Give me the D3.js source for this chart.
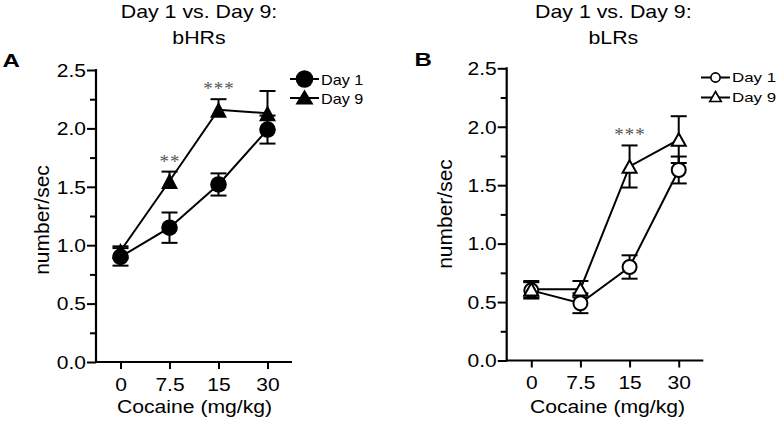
<!DOCTYPE html>
<html>
<head>
<meta charset="utf-8">
<script src="https://cdn.jsdelivr.net/npm/d3@7"></script>
<style>
  html, body { margin: 0; padding: 0; background: #fff; }
  svg { display: block; }
  text { font-family: "Liberation Sans", Arial, Helvetica, sans-serif; fill: #000; }
</style>
</head>
<body>
<svg id="chart" width="779" height="423"></svg>
<script>
// ---------------- data ----------------
const doses = ["0", "7.5", "15", "30"];
const yTickValues = [0, 0.5, 1.0, 1.5, 2.0, 2.5];
const yMinorTickValues = [0.25, 0.75, 1.25, 1.75, 2.25];
const seriesNames = ["Day 1", "Day 9"];

const hrTitle = ["Day 1 vs. Day 9:", "bHRs"];
const hrDay1 = [0.90, 1.15, 1.52, 1.99];
const hrDay1Err = [0.075, 0.13, 0.095, 0.12];
const hrDay9 = [0.95, 1.55, 2.16, 2.13];
const hrDay9Err = [0.04, 0.08, 0.09, 0.19];
const hrSig = ["", "**", "***", ""];

const lrTitle = ["Day 1 vs. Day 9:", "bLRs"];
const lrDay1 = [0.60, 0.49, 0.80, 1.63];
const lrDay1Err = [0.07, 0.085, 0.10, 0.115];
const lrDay9 = [0.61, 0.61, 1.66, 1.89];
const lrDay9Err = [0.07, 0.07, 0.18, 0.20];
const lrSig = ["", "", "***", ""];

const yLabel = "number/sec";
const xLabel = "Cocaine (mg/kg)";

// ---------------- layout / style ----------------
const panels = [
  {
    letter: "A", title: hrTitle, sig: hrSig,
    series: [
      { name: seriesNames[0], values: hrDay1, err: hrDay1Err, shape: "circle", filled: true, errUpOnly: false },
      { name: seriesNames[1], values: hrDay9, err: hrDay9Err, shape: "triangle", filled: true, errUpOnly: true }
    ],
    x0: 96, x1: 292, y0: 362, y1: 70,
    titleX: 199, letterX: 2.5, letterY: 66.5,
    yLabelX: 42, yLabelY: 220, xLabelX: 194.5,
    legend: { lineX0: 290, lineX1: 319, markX: 304.5, rows: [79, 98], textX: 321, textDy: 5.5, fs: 15, sx: 1.08, r: 8.8, tw: 18, th: 15 },
    markR: 8.3, triW: 17, triH: 16
  },
  {
    letter: "B", title: lrTitle, sig: lrSig,
    series: [
      { name: seriesNames[0], values: lrDay1, err: lrDay1Err, shape: "circle", filled: false, errUpOnly: false },
      { name: seriesNames[1], values: lrDay9, err: lrDay9Err, shape: "triangle", filled: false, errUpOnly: false }
    ],
    x0: 506.7, x1: 703.3, y0: 360.5, y1: 68.3,
    titleX: 613.3, letterX: 414.5, letterY: 65.7,
    yLabelX: 445, yLabelY: 214, xLabelX: 607.5,
    legend: { lineX0: 701, lineX1: 730, markX: 715.5, rows: [77.5, 97.5], textX: 732, textDy: 4.3, fs: 13, sx: 1.3, r: 4.6, tw: 11.5, th: 10 },
    markR: 7, triW: 14, triH: 12.5
  }
];

const SX = 1.2;           // horizontal text stretch
const FS = 17.5;          // base font size

const svg = d3.select("#chart");

function triPath(w, h) {
  return `M0,${-h / 2}L${w / 2},${h / 2}L${-w / 2},${h / 2}Z`;
}

function stretchedText(g, str, x, y, opts) {
  const t = g.append("text")
    .attr("transform", `translate(${x},${y}) scale(${opts.sx || SX},1)`)
    .attr("text-anchor", opts.anchor || "middle")
    .style("font-size", (opts.fs || FS) + "px")
    .text(str);
  if (opts.weight) t.style("font-weight", opts.weight);
  if (opts.fill) t.style("fill", opts.fill);
  if (opts.family) t.style("font-family", opts.family);
  return t;
}

panels.forEach(p => {
  const g = svg.append("g");
  const x = d3.scalePoint().domain(doses).range([p.x0, p.x1]).padding(0.5);
  const y = d3.scaleLinear().domain([0, 2.5]).range([p.y0, p.y1]);

  // titles
  stretchedText(g, p.title[0], p.titleX, 17.5, { sx: 1.22 });
  stretchedText(g, p.title[1], p.titleX, 43.5, { sx: 1.22 });
  // panel letter
  stretchedText(g, p.letter, p.letterX, p.letterY, { anchor: "start", weight: "bold", fs: 18.5, sx: 1.3 });

  // y axis major
  const yAxis = g.append("g")
    .attr("transform", `translate(${p.x0},0)`)
    .call(d3.axisLeft(y).tickValues(yTickValues).tickSize(9).tickSizeOuter(0).tickFormat(d3.format(".1f")));
  yAxis.select(".domain").remove();
  yAxis.selectAll(".tick line").attr("stroke", "#000").attr("stroke-width", 2);
  yAxis.selectAll(".tick text")
    .attr("x", -10 / SX)
    .attr("dy", "0.36em")
    .attr("transform", `scale(${SX},1)`)
    .style("font-size", FS + "px")
    .style("font-family", '"Liberation Sans", Arial, sans-serif');

  // y axis minor
  const yMinor = g.append("g")
    .attr("transform", `translate(${p.x0},0)`)
    .call(d3.axisLeft(y).tickValues(yMinorTickValues).tickSize(6).tickSizeOuter(0).tickFormat(""));
  yMinor.select(".domain").remove();
  yMinor.selectAll(".tick line").attr("stroke", "#000").attr("stroke-width", 2);

  // x axis
  const xAxis = g.append("g")
    .attr("transform", `translate(0,${p.y0})`)
    .call(d3.axisBottom(x).tickSize(7).tickSizeOuter(0));
  xAxis.select(".domain").remove();
  xAxis.selectAll(".tick line").attr("stroke", "#000").attr("stroke-width", 2);
  xAxis.selectAll(".tick text")
    .attr("y", 16.5)
    .attr("transform", `scale(${SX},1)`)
    .style("font-size", FS + "px")
    .style("font-family", '"Liberation Sans", Arial, sans-serif');

  // axis lines
  g.append("line").attr("x1", p.x0).attr("x2", p.x0).attr("y1", p.y1 - 1).attr("y2", p.y0 + 1)
    .attr("stroke", "#000").attr("stroke-width", 2.2);
  g.append("line").attr("x1", p.x0).attr("x2", p.x1).attr("y1", p.y0).attr("y2", p.y0)
    .attr("stroke", "#000").attr("stroke-width", 2.2);

  // axis labels
  g.append("text")
    .attr("transform", `translate(${p.yLabelX},${p.yLabelY}) rotate(-90)`)
    .attr("text-anchor", "middle")
    .attr("dy", "0.35em")
    .style("font-size", "21px")
    .text(yLabel);
  stretchedText(g, xLabel, p.xLabelX, 413, { sx: 1.21 });

  // lines
  const line = d3.line().x((d, i) => x(doses[i])).y(d => y(d));
  p.series.forEach(s => {
    g.append("path").attr("d", line(s.values))
      .attr("fill", "none").attr("stroke", "#000").attr("stroke-width", 2);
  });

  // error bars
  const cap = 8;
  p.series.forEach(s => {
    s.values.forEach((v, i) => {
      const cx = x(doses[i]);
      const top = y(v + s.err[i]);
      const bot = s.errUpOnly ? y(v) : y(v - s.err[i]);
      g.append("line").attr("x1", cx).attr("x2", cx).attr("y1", top).attr("y2", bot)
        .attr("stroke", "#000").attr("stroke-width", 2);
      g.append("line").attr("x1", cx - cap).attr("x2", cx + cap).attr("y1", top).attr("y2", top)
        .attr("stroke", "#000").attr("stroke-width", 2);
      if (!s.errUpOnly) {
        g.append("line").attr("x1", cx - cap).attr("x2", cx + cap).attr("y1", bot).attr("y2", bot)
          .attr("stroke", "#000").attr("stroke-width", 2);
      }
    });
  });

  // markers
  p.series.forEach(s => {
    s.values.forEach((v, i) => {
      const cx = x(doses[i]), cy = y(v);
      if (s.shape === "circle") {
        g.append("circle").attr("cx", cx).attr("cy", cy).attr("r", p.markR)
          .attr("fill", s.filled ? "#000" : "#fff").attr("stroke", "#000").attr("stroke-width", s.filled ? 0 : 2);
      } else {
        g.append("path").attr("d", triPath(p.triW, p.triH))
          .attr("transform", `translate(${cx},${cy})`)
          .attr("fill", s.filled ? "#000" : "#fff").attr("stroke", "#000").attr("stroke-width", s.filled ? 0 : 2)
          .attr("stroke-linejoin", "miter");
      }
    });
  });

  // significance asterisks
  p.sig.forEach((lab, i) => {
    if (!lab) return;
    const maxTop = d3.max(p.series, s => s.values[i] + s.err[i]);
    g.append("text")
      .attr("x", x(doses[i]) + 0.5)
      .attr("y", y(maxTop) - 4)
      .attr("text-anchor", "middle")
      .style("font-family", '"Liberation Serif", "Times New Roman", serif')
      .style("font-size", "19px")
      .style("letter-spacing", "1px")
      .style("fill", "#555")
      .text(lab);
  });

  // legend
  const L = p.legend;
  p.series.forEach((s, k) => {
    const ry = L.rows[k];
    g.append("line").attr("x1", L.lineX0).attr("x2", L.lineX1).attr("y1", ry).attr("y2", ry)
      .attr("stroke", "#000").attr("stroke-width", 2);
    if (s.shape === "circle") {
      g.append("circle").attr("cx", L.markX).attr("cy", ry).attr("r", L.r)
        .attr("fill", s.filled ? "#000" : "#fff").attr("stroke", "#000").attr("stroke-width", s.filled ? 0 : 1.6);
    } else {
      g.append("path").attr("d", triPath(L.tw, L.th))
        .attr("transform", `translate(${L.markX},${ry - 1})`)
        .attr("fill", s.filled ? "#000" : "#fff").attr("stroke", "#000").attr("stroke-width", s.filled ? 0 : 1.6);
    }
    stretchedText(g, s.name, L.textX, ry + L.textDy, { anchor: "start", fs: L.fs, sx: L.sx });
  });
});
</script>
</body>
</html>
